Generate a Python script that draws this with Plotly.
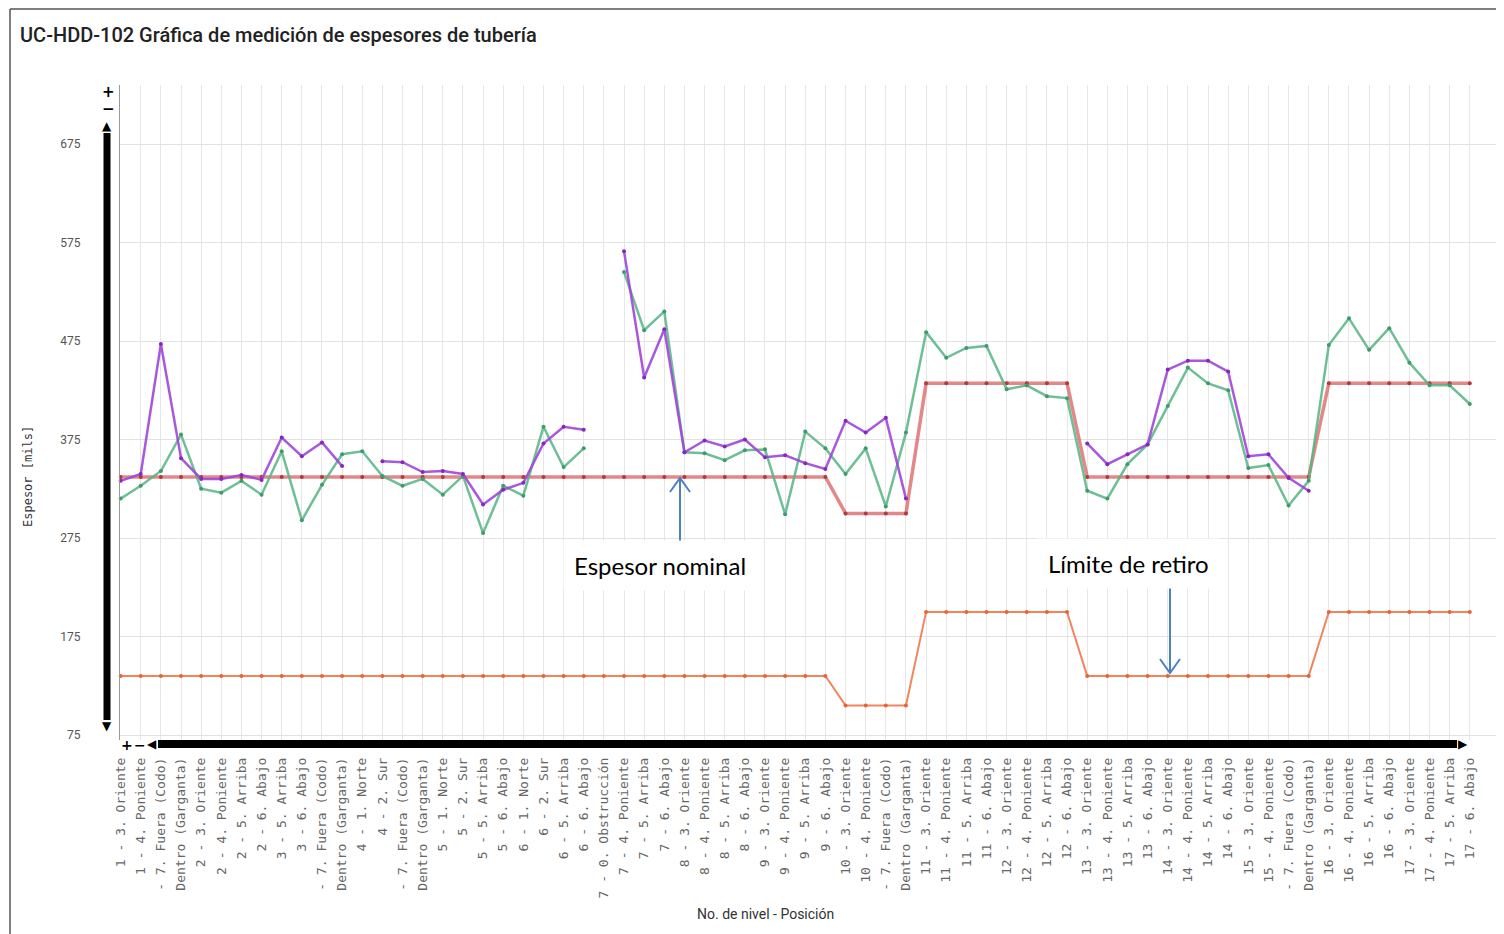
"""UC-HDD-102: espesores de tubería por nivel y posición."""
import plotly.graph_objects as go

categorias = [
    "1 - 3. Oriente", "1 - 4. Poniente", "1 - 7. Fuera (Codo)", "1 - 8. Dentro (Garganta)",
    "2 - 3. Oriente", "2 - 4. Poniente", "2 - 5. Arriba", "2 - 6. Abajo",
    "3 - 5. Arriba", "3 - 6. Abajo", "3 - 7. Fuera (Codo)", "3 - 8. Dentro (Garganta)",
    "4 - 1. Norte", "4 - 2. Sur", "4 - 7. Fuera (Codo)", "4 - 8. Dentro (Garganta)",
    "5 - 1. Norte", "5 - 2. Sur", "5 - 5. Arriba", "5 - 6. Abajo",
    "6 - 1. Norte", "6 - 2. Sur", "6 - 5. Arriba", "6 - 6. Abajo",
    "7 - 0. Obstrucción", "7 - 4. Poniente", "7 - 5. Arriba", "7 - 6. Abajo",
    "8 - 3. Oriente", "8 - 4. Poniente", "8 - 5. Arriba", "8 - 6. Abajo",
    "9 - 3. Oriente", "9 - 4. Poniente", "9 - 5. Arriba", "9 - 6. Abajo",
    "10 - 3. Oriente", "10 - 4. Poniente", "10 - 7. Fuera (Codo)", "10 - 8. Dentro (Garganta)",
    "11 - 3. Oriente", "11 - 4. Poniente", "11 - 5. Arriba", "11 - 6. Abajo",
    "12 - 3. Oriente", "12 - 4. Poniente", "12 - 5. Arriba", "12 - 6. Abajo",
    "13 - 3. Oriente", "13 - 4. Poniente", "13 - 5. Arriba", "13 - 6. Abajo",
    "14 - 3. Oriente", "14 - 4. Poniente", "14 - 5. Arriba", "14 - 6. Abajo",
    "15 - 3. Oriente", "15 - 4. Poniente", "15 - 7. Fuera (Codo)", "15 - 8. Dentro (Garganta)",
    "16 - 3. Oriente", "16 - 4. Poniente", "16 - 5. Arriba", "16 - 6. Abajo",
    "17 - 3. Oriente", "17 - 4. Poniente", "17 - 5. Arriba", "17 - 6. Abajo",
]

# espesores en mils (None = sin lectura)
medicion_a = [  # morada
    333, 340, 472, 356, 335, 335, 339, 334, 377, 358, 372, 348,
    None, 353, 352, 342, 343, 340, 309, 324, 331, 371, 388, 385,
    None, 566, 438, 487, 362, 374, 368, 375, 357, 359, 351, 345,
    394, 382, 397, 315, None, None, None, None, None, None, None, None,
    371, 350, 360, 370, 446, 455, 455, 444, 358, 360, 336, 323,
    None, None, None, None, None, None, None, None,
]
medicion_b = [  # verde
    315, 328, 343, 380, 325, 321, 333, 319, 363, 293, 329, 360,
    363, 338, 328, 335, 319, 338, 280, 328, 318, 388, 347, 366,
    None, 545, 486, 505, 362, 361, 354, 364, 365, 299, 383, 366,
    340, 366, 307, 382, 484, 458, 468, 470, 426, 430, 419, 417,
    323, 315, 350, 370, 409, 448, 432, 425, 346, 349, 308, 333,
    471, 498, 466, 488, 453, 430, 430, 411,
]
espesor_nominal = [
    337, 337, 337, 337, 337, 337, 337, 337, 337, 337, 337, 337,
    337, 337, 337, 337, 337, 337, 337, 337, 337, 337, 337, 337,
    337, 337, 337, 337, 337, 337, 337, 337, 337, 337, 337, 337,
    300, 300, 300, 300, 432, 432, 432, 432, 432, 432, 432, 432,
    337, 337, 337, 337, 337, 337, 337, 337, 337, 337, 337, 337,
    432, 432, 432, 432, 432, 432, 432, 432,
]
limite_retiro = [
    135, 135, 135, 135, 135, 135, 135, 135, 135, 135, 135, 135,
    135, 135, 135, 135, 135, 135, 135, 135, 135, 135, 135, 135,
    135, 135, 135, 135, 135, 135, 135, 135, 135, 135, 135, 135,
    105, 105, 105, 105, 200, 200, 200, 200, 200, 200, 200, 200,
    135, 135, 135, 135, 135, 135, 135, 135, 135, 135, 135, 135,
    200, 200, 200, 200, 200, 200, 200, 200,
]
y_ticks = [75, 175, 275, 375, 475, 575, 675]

# the page body has an 8px margin, so the figure is drawn 8px in
OFF = 8
W, H = 1504 - OFF, 934 - OFF
PL, PR, PT, PB = 120, 1500, 85, 740  # plot area, window px


def px(x):
    return (x - PL) / (PR - PL)


def py(y):
    return (PB - y) / (PB - PT)


SANS = "Roboto, Liberation Sans, sans-serif"
MONO = "DejaVu Sans Mono, monospace"

fig = go.Figure()
series = [
    ("Límite de retiro", limite_retiro, "rgba(240,120,75,0.9)", "#e8623a", 2),
    ("Espesor nominal", espesor_nominal, "rgba(215,85,85,0.7)", "#b23a3a", 3.5),
    ("Medición B", medicion_b, "rgba(85,180,130,0.85)", "#3f9a6c", 2.5),
    ("Medición A", medicion_a, "rgba(160,70,215,0.9)", "#8428c0", 2.5),
]
for name, vals, lc, mc, w in series:
    fig.add_trace(go.Scatter(
        x=categorias, y=vals, name=name, mode="lines+markers",
        line=dict(color=lc, width=w), marker=dict(size=4, color=mc),
        connectgaps=False, cliponaxis=False,
    ))

shapes = [
    # marco
    dict(type="line", x0=px(10), x1=px(1504), y0=py(9), y1=py(9), line=dict(color="#555", width=1.5)),
    dict(type="line", x0=px(10), x1=px(10), y0=py(9), y1=py(934), line=dict(color="#555", width=1.5)),
    # barras de desplazamiento
    dict(type="line", x0=px(107), x1=px(107), y0=py(133), y1=py(720), line=dict(color="black", width=7)),
    dict(type="line", x0=px(158), x1=px(1457), y0=py(744), y1=py(744), line=dict(color="black", width=8)),
    # flechas de anotación
    dict(type="line", x0=px(680), x1=px(680), y0=py(546), y1=py(479), line=dict(color="#4f81bd", width=2)),
    dict(type="path", path=f"M {px(670)},{py(492)} L {px(680)},{py(478)} L {px(690)},{py(492)}",
         line=dict(color="#4f81bd", width=2)),
    dict(type="line", x0=px(1170), x1=px(1170), y0=py(580), y1=py(672), line=dict(color="#4f81bd", width=2)),
    dict(type="path", path=f"M {px(1160)},{py(659)} L {px(1170)},{py(673)} L {px(1180)},{py(659)}",
         line=dict(color="#4f81bd", width=2)),
]
for s in shapes:
    s.update(xref="paper", yref="paper", layer="above")


def note(text, x, y, size, color="#222", family=SANS, angle=0, **kw):
    return dict(text=text, x=px(x), y=py(y), xref="paper", yref="paper", showarrow=False,
                xanchor="center", yanchor="middle", textangle=angle,
                font=dict(family=family, size=size, color=color), **kw)


annotations = [
    note("Espesor [mils]", 28, 477, 12, "#333", MONO, -90),
    note("No. de nivel - Posición", 765, 914, 14, "#333"),
    note("Espesor nominal", 660, 565, 24, "black", "Lato, Open Sans, sans-serif",
         bgcolor="white", borderpad=10),
    note("Límite de retiro", 1128, 563, 24, "black", "Lato, Open Sans, sans-serif",
         bgcolor="white", borderpad=10),
    note("<b>+</b>", 108, 92, 15, "black", "DejaVu Sans"),
    note("<b>−</b>", 108, 109, 15, "black", "DejaVu Sans"),
    note("▲", 107, 126, 12, "black", "DejaVu Sans"),
    note("▼", 107, 726, 12, "black", "DejaVu Sans"),
    note("<b>+</b>", 127, 745, 14, "black", "DejaVu Sans"),
    note("<b>−</b>", 140, 745, 14, "black", "DejaVu Sans"),
    note("◀", 152, 744, 12, "black", "DejaVu Sans"),
    note("▶", 1463, 744, 12, "black", "DejaVu Sans"),
]

fig.update_layout(
    width=W, height=H,
    margin=dict(l=PL - OFF, r=W - (PR - OFF), t=PT - OFF, b=H - (PB - OFF)),
    paper_bgcolor="white", plot_bgcolor="white",
    showlegend=False,
    title=dict(text="UC-HDD-102 Gráfica de medición de espesores de tubería",
               x=(20 - OFF) / W, y=1 - (35 - OFF) / H, xref="container", yref="container",
               xanchor="left", yanchor="middle",
               font=dict(family=SANS, size=20, color="#222", weight=500)),
    xaxis=dict(
        type="category", range=[-0.03, 68.5],
        tickvals=categorias, ticktext=[c[-18:] for c in categorias],
        tickangle=-90, ticklabelstandoff=14,
        tickfont=dict(family=MONO, size=13, color="#666"),
        showgrid=True, gridcolor="#e6e6e6", gridwidth=1,
        showline=False, zeroline=False, ticks="",
    ),
    yaxis=dict(
        range=[75 - (PB - 735) / 0.985, 675 + (144 - PT) / 0.985],
        tickvals=y_ticks, ticklabelstandoff=36,
        tickfont=dict(family=SANS, size=12, color="#555"),
        showgrid=True, gridcolor="#e2e2e2", gridwidth=1,
        showline=True, linecolor="#999", linewidth=1,
        zeroline=False, ticks="",
    ),
    shapes=shapes,
    annotations=annotations,
)

fig.write_html("out.html")
